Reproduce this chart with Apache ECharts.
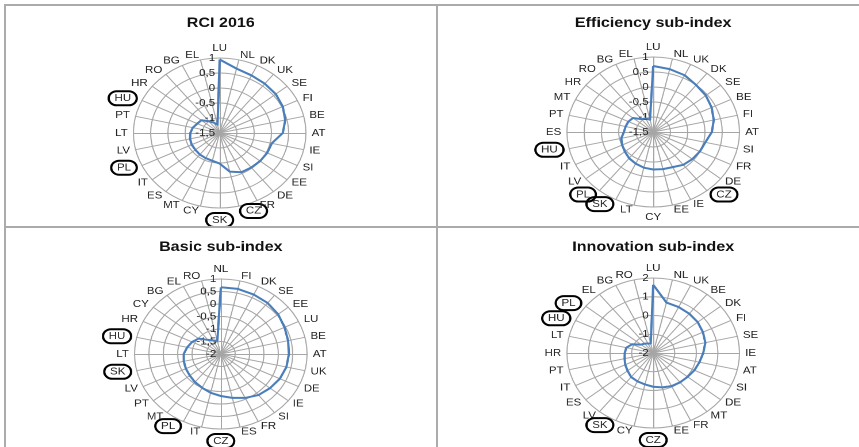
<!DOCTYPE html>
<html>
<head>
<meta charset="utf-8">
<script src="https://cdn.jsdelivr.net/npm/echarts@6/dist/echarts.min.js"></script>
<style>
html, body { margin: 0; padding: 0; background: #fff; }
#wrap { position: relative; width: 859px; height: 447px; overflow: hidden; }
#chart { position: absolute; left: 0; top: 0; width: 747px; height: 447px; transform: scaleX(1.15); transform-origin: 0 0; }
.ln { position: absolute; background: #ababab; }
</style>
</head>
<body>
<div id="wrap">
  <div id="chart"></div>
  <div class="ln" style="left:4px;top:4px;width:855px;height:2px"></div>
  <div class="ln" style="left:4px;top:4px;width:2px;height:443px"></div>
  <div class="ln" style="left:4px;top:226px;width:855px;height:2px"></div>
  <div class="ln" style="left:436px;top:4px;width:2px;height:443px"></div>
</div>
<script>
// countries in the order they appear clockwise from the top, with scores
var rciCountries = ['LU','NL','DK','UK','SE','FI','BE','AT','IE','SI','EE','DE','FR','CZ','SK','CY','MT','ES','IT','PL','LV','LT','PT','HU','HR','RO','BG','EL'];
var rciValues = [0.95,0.7,0.63,0.6,0.58,0.53,0.45,0.33,0.05,0.03,0,-0.03,-0.05,-0.18,-0.48,-0.55,-0.57,-0.58,-0.6,-0.6,-0.62,-0.65,-0.7,-0.78,-0.82,-1.0,-1.12,-1.22];

var effCountries = ['LU','NL','UK','DK','SE','BE','FI','AT','SI','FR','DE','CZ','IE','EE','CY','LT','SK','PL','LV','IT','HU','ES','PT','MT','HR','RO','BG','EL'];
var effValues = [0.7,0.65,0.6,0.5,0.45,0.38,0.3,0.2,0.05,0,-0.05,-0.1,-0.2,-0.23,-0.25,-0.28,-0.33,-0.38,-0.45,-0.5,-0.55,-0.65,-0.68,-0.7,-0.75,-0.95,-1.0,-1.08];

var basicCountries = ['NL','FI','DK','SE','EE','LU','BE','AT','UK','DE','IE','SI','FR','ES','CZ','IT','PL','MT','PT','LV','SK','LT','HU','HR','CY','BG','EL','RO'];
var basicValues = [0.67,0.67,0.64,0.61,0.55,0.46,0.4,0.37,0.34,0.28,0.19,0.1,-0.05,-0.2,-0.32,-0.41,-0.5,-0.56,-0.62,-0.65,-0.68,-0.71,-0.8,-0.89,-1.01,-1.28,-1.4,-1.46];

var innoCountries = ['LU','NL','UK','BE','DK','FI','SE','IE','AT','SI','DE','MT','FR','EE','CZ','CY','SK','LV','ES','IT','PT','HR','LT','HU','PL','EL','BG','RO'];
var innoValues = [1.64,0.76,0.72,0.68,0.64,0.56,0.48,0.32,0.2,0.12,0.04,0,-0.04,-0.12,-0.2,-0.28,-0.32,-0.36,-0.48,-0.56,-0.64,-0.68,-0.72,-0.92,-1.28,-1.36,-1.44,-1.48];

var titles = ['RCI 2016', 'Efficiency sub-index', 'Basic sub-index', 'Innovation sub-index'];
var circled = ['CZ', 'HU', 'PL', 'SK'];

var myChart = echarts.init(document.getElementById('chart'), null, { devicePixelRatio: 2 });

// echarts lays radar axes counter-clockwise, the original runs clockwise
function cw(arr) {
    return [arr[0]].concat(arr.slice(1).reverse());
}

function makeRadar(countries, min, max, split, center) {
    return {
        center: center,
        radius: 75,
        startAngle: 90,
        shape: 'circle',
        splitNumber: split,
        nameGap: 5,
        indicator: cw(countries).map(function (c, i) {
            var ind = { name: c, min: min, max: max };
            if (i === 0) ind.axisLabel = { show: true };
            return ind;
        }),
        axisName: {
            color: '#222',
            fontSize: 10,
            fontFamily: 'Liberation Sans Narrow, Liberation Sans, sans-serif',
            formatter: function (name) {
                return circled.indexOf(name) >= 0 ? '{c|' + name + '}' : name;
            },
            rich: {
                c: {
                    color: '#222',
                    fontSize: 10,
                    fontFamily: 'Liberation Sans Narrow, Liberation Sans, sans-serif',
                    borderColor: '#000',
                    borderWidth: 2,
                    borderRadius: 9,
                    padding: [2, 5]
                }
            }
        },
        axisLine: { lineStyle: { color: '#a6a6a6' } },
        splitLine: { lineStyle: { color: '#a6a6a6' } },
        splitArea: { show: false },
        axisTick: { show: false },
        axisLabel: {
            show: false,
            color: '#222',
            fontSize: 10,
            fontFamily: 'Liberation Sans Narrow, Liberation Sans, sans-serif',
            margin: 4,
            formatter: function (v) { return String(v).replace('.', ','); }
        }
    };
}

var radars = [
    makeRadar(rciCountries, -1.5, 1, 5, [191, 133]),
    makeRadar(effCountries, -1.5, 1, 5, [568, 132]),
    makeRadar(basicCountries, -2, 1, 6, [192, 354]),
    makeRadar(innoCountries, -2, 2, 4, [568, 353])
];
var allValues = [rciValues, effValues, basicValues, innoValues];

var titleX = [192, 568, 192, 568];
var titleY = [23, 23, 247, 247];

myChart.setOption({
    animation: false,
    graphic: titles.map(function (t, i) {
        return {
            type: 'text',
            x: titleX[i],
            y: titleY[i],
            style: {
                text: t,
                align: 'center',
                verticalAlign: 'middle',
                font: 'bold 14px Liberation Sans, sans-serif',
                fill: '#111'
            }
        };
    }),
    radar: radars,
    series: allValues.map(function (vals, i) {
        return {
            type: 'radar',
            radarIndex: i,
            symbol: 'none',
            lineStyle: { color: '#4a7ebb', width: 2 },
            data: [{ value: cw(vals) }]
        };
    })
});
</script>
</body>
</html>
